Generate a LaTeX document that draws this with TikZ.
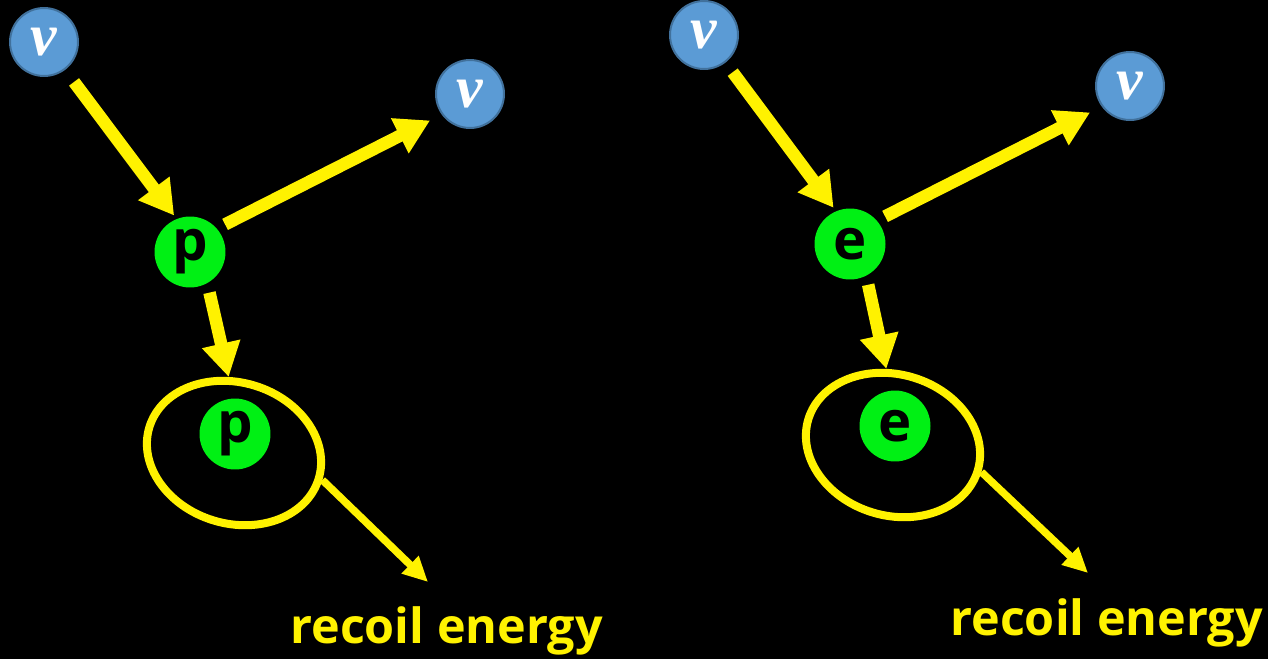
\documentclass[tikz,border=0pt]{standalone}
\usepackage{fontspec}
\setsansfont{Open Sans}
\newfontfamily\nufont{Liberation Serif}
\usetikzlibrary{arrows.meta,shapes.geometric}

\definecolor{nublue}{HTML}{5B9BD5}
\definecolor{nuedge}{HTML}{41719C}
\definecolor{partgreen}{RGB}{0,240,20}

\tikzset{
  nu/.style={circle, fill=nublue, draw=nuedge, line width=0.04cm,
    minimum size=1.36cm, inner sep=0pt, text=white,
    font=\nufont\bfseries\itshape\fontsize{34}{34}\selectfont},
  particle/.style={circle, fill=partgreen, minimum size=1.42cm, inner sep=0pt,
    text=black, font=\sffamily\bfseries\fontsize{32}{32}\selectfont},
  shell/.style={ellipse, draw=yellow, line width=0.16cm,
    minimum width=3.54cm, minimum height=2.82cm, inner sep=0pt, rotate=-17},
  bigarrow/.style={draw=yellow, line width=0.25cm,
    -{Triangle[length=0.68cm,width=0.74cm]}},
  thinarrow/.style={draw=yellow, line width=0.15cm,
    -{Triangle[length=0.5cm,width=0.46cm]}},
  energytext/.style={inner sep=0pt, text=yellow,
    font=\sffamily\bfseries\fontsize{27.6}{28}\selectfont},
}

\begin{document}
\begin{tikzpicture}[x=0.02cm, y=-0.02cm]
  % background and page size
  \fill[black] (0,0) rectangle (1268,659);
  \useasboundingbox (0,0) rectangle (1268,659);

  % ---- neutrino-proton scattering ----
  \node[nu] (nuA) at (44,42) {ν};
  \node[nu] (nuB) at (470,94) {ν};
  \node[particle] (pA) at (190,252) {p};
  \node[shell] (ellA) at (234,453) {};
  \node[particle] (pB) at (235,434) {p};
  \coordinate (reA) at (428,582);
  \node[energytext, anchor=base west] (recA) at (290,643) {recoil energy};

  \draw[bigarrow, shorten <=0.3cm, shorten >=0.08cm] (nuA.307) -- (pA.112);
  \draw[bigarrow, shorten <=0.18cm, shorten >=0.26cm] (pA.41) -- (nuB.216);
  \draw[bigarrow, shorten <=0.19cm] (pA.299) -- (ellA.111);
  \draw[thinarrow] (ellA.east) -- (reA);

  % ---- neutrino-electron scattering ----
  \node[nu] (nuC) at (704,35) {ν};
  \node[nu] (nuD) at (1130,86) {ν};
  \node[particle] (eA) at (850,244) {e};
  \node[shell] (ellB) at (893,445) {};
  \node[particle] (eB) at (895,426) {e};
  \coordinate (reB) at (1088,573);
  \node[energytext, anchor=base west] (recB) at (950,635) {recoil energy};

  \draw[bigarrow, shorten <=0.24cm, shorten >=0.08cm] (nuC.308) -- (eA.113);
  \draw[bigarrow, shorten <=0.18cm, shorten >=0.26cm] (eA.41) -- (nuD.216);
  \draw[bigarrow, shorten <=0.18cm] (eA.297) -- (ellB.112);
  \draw[thinarrow] (ellB.east) -- (reB);
\end{tikzpicture}
\end{document}
